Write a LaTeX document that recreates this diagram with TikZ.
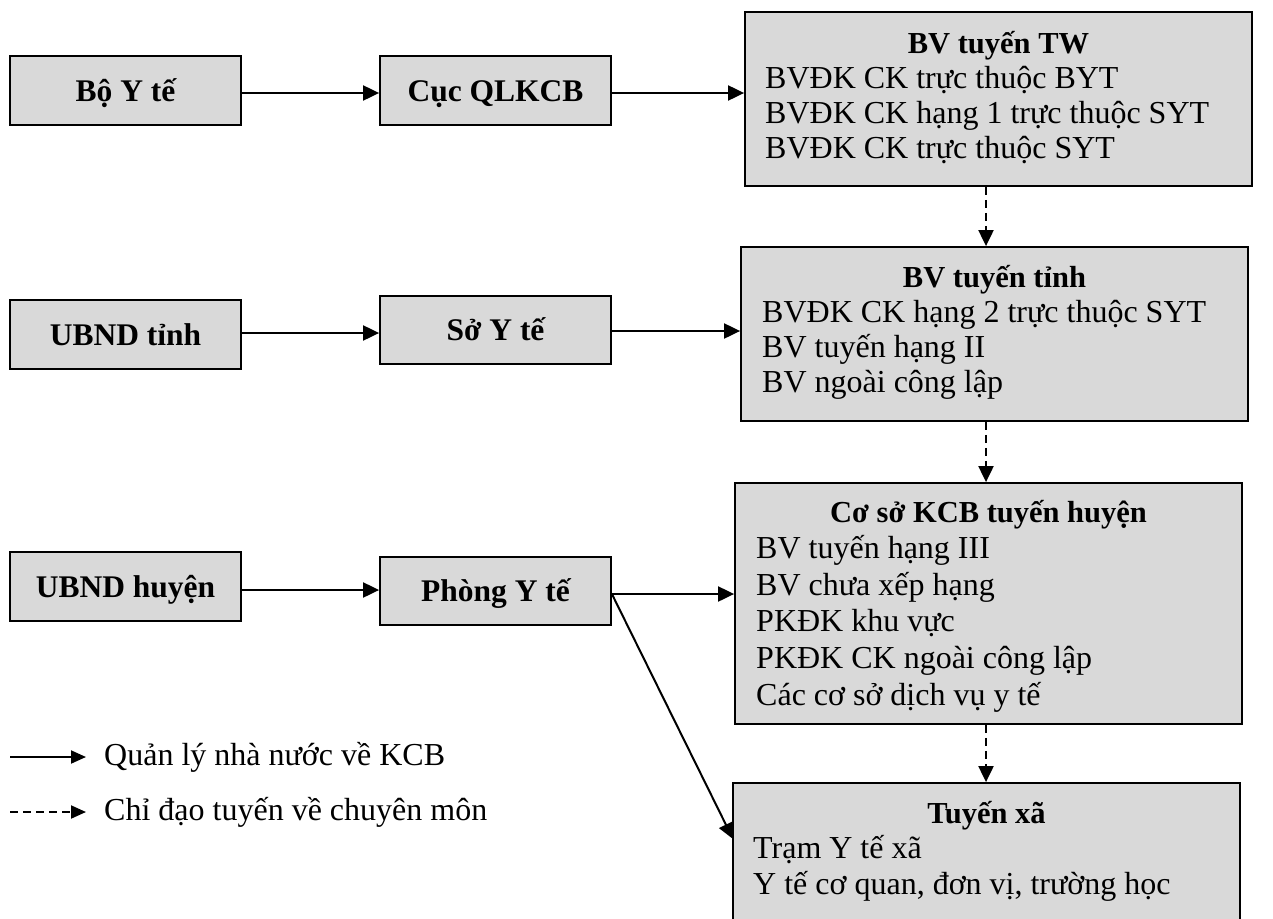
\documentclass[tikz,border=0pt]{standalone}
\usepackage{fontspec}
\setmainfont{Liberation Serif}
\usetikzlibrary{arrows.meta}
\definecolor{boxgray}{RGB}{217,217,217}
\begin{document}
\begin{tikzpicture}[x=1pt,y=-1pt,
  box/.style={draw=black, line width=1.8pt, fill=boxgray, inner sep=0pt},
  sbox/.style={box, minimum width=231pt, minimum height=69pt, text height=21pt, text depth=0pt, font=\fontsize{31.5}{35}\selectfont\bfseries},
  ttl/.style={anchor=base, inner sep=0pt, font=\fontsize{30.5}{35}\selectfont\bfseries},
  itm/.style={anchor=base west, inner sep=0pt, font=\fontsize{32}{36}\selectfont},
  arr/.style={line width=2pt, -{Triangle[length=16pt,width=15pt]}},
  darr/.style={arr, dash pattern=on 8pt off 5pt}]
\useasboundingbox (0,0) rectangle (1273,918);
\clip (0,0) rectangle (1273,918);
\fill[white] (0,0) rectangle (1273,918);

% left column
\node[sbox] (byt) at (125.5,90.5) {Bộ Y tế};
\node[sbox] (ubt) at (125.5,334.5) {UBND tỉnh};
\node[sbox] (ubh) at (125.5,586.5) {UBND huyện};
% middle column
\node[sbox] (cuc) at (495.5,90.5) {Cục QLKCB};
\node[sbox, minimum height=68pt] (so) at (495.5,330) {Sở Y tế};
\node[sbox, minimum height=68pt] (phong) at (495.5,591) {Phòng Y tế};

% right column boxes
\node[box, minimum width=507pt, minimum height=174pt] (tw) at (998.5,99) {};
\node[box, minimum width=507pt, minimum height=174pt] (tinh) at (994.5,334) {};
\node[box, minimum width=507pt, minimum height=241pt] (huyen) at (988.5,603.5) {};
\node[box, minimum width=507pt, minimum height=147pt] (xa) at (986.5,856.5) {};

% texts
\node[ttl] (twt) at (998.5,53) {BV tuyến TW};
\node[itm] (tw1) at (765,88) {BVĐK CK trực thuộc BYT};
\node[itm] (tw2) at (765,123) {BVĐK CK hạng 1 trực thuộc SYT};
\node[itm] (tw3) at (765,158) {BVĐK CK trực thuộc SYT};

\node[ttl] (tinht) at (994.5,287) {BV tuyến tỉnh};
\node[itm] (tinh1) at (762,322) {BVĐK CK hạng 2 trực thuộc SYT};
\node[itm] (tinh2) at (762,357) {BV tuyến hạng II};
\node[itm] (tinh3) at (762,392) {BV ngoài công lập};

\node[ttl] (huyent) at (988.5,522) {Cơ sở KCB tuyến huyện};
\node[itm] (h1) at (756,558) {BV tuyến hạng III};
\node[itm] (h2) at (756,595) {BV chưa xếp hạng};
\node[itm] (h3) at (756,631) {PKĐK khu vực};
\node[itm] (h4) at (756,668) {PKĐK CK ngoài công lập};
\node[itm] (h5) at (756,705) {Các cơ sở dịch vụ y tế};

\node[ttl] (xat) at (986.5,823) {Tuyến xã};
\node[itm] (x1) at (753,858) {Trạm Y tế xã};
\node[itm] (x2) at (753,894) {Y tế cơ quan, đơn vị, trường học};

% solid arrows
\coordinate (r1) at (0,93);
\coordinate (r2) at (0,333);
\coordinate (r2b) at (0,331);
\coordinate (r3) at (0,590);
\coordinate (r3b) at (0,594);
\draw[arr] (byt.east |- r1) -- (cuc.west |- r1);
\draw[arr] (cuc.east |- r1) -- (tw.west |- r1);
\draw[arr] (ubt.east |- r2) -- (so.west |- r2);
\draw[arr] (so.east |- r2b) -- (tinh.west |- r2b);
\draw[arr] (ubh.east |- r3) -- (phong.west |- r3);
\draw[arr] (phong.east |- r3b) -- (huyen.west |- r3b);
\coordinate (xin) at (733,839);
\draw[arr] (phong.east |- r3b) -- (xin);

% dashed arrows
\coordinate (dx) at (986,0);
\draw[darr] (tw.south -| dx) -- (tinh.north -| dx);
\draw[darr] (tinh.south -| dx) -- (huyen.north -| dx);
\draw[darr] (huyen.south -| dx) -- (xa.north -| dx);

% legend
\coordinate (l1a) at (10,757);
\coordinate (l1b) at (86,757);
\coordinate (l2a) at (10,812);
\coordinate (l2b) at (86,812);
\draw[line width=2pt, -{Triangle[length=15pt,width=13pt]}] (l1a) -- (l1b);
\draw[line width=2pt, -{Triangle[length=15pt,width=13pt]}, dash pattern=on 8pt off 5pt] (l2a) -- (l2b);
\node[itm] (lg1) at (104,765) {Quản lý nhà nước về KCB};
\node[itm] (lg2) at (104,820) {Chỉ đạo tuyến về chuyên môn};
\end{tikzpicture}
\end{document}
